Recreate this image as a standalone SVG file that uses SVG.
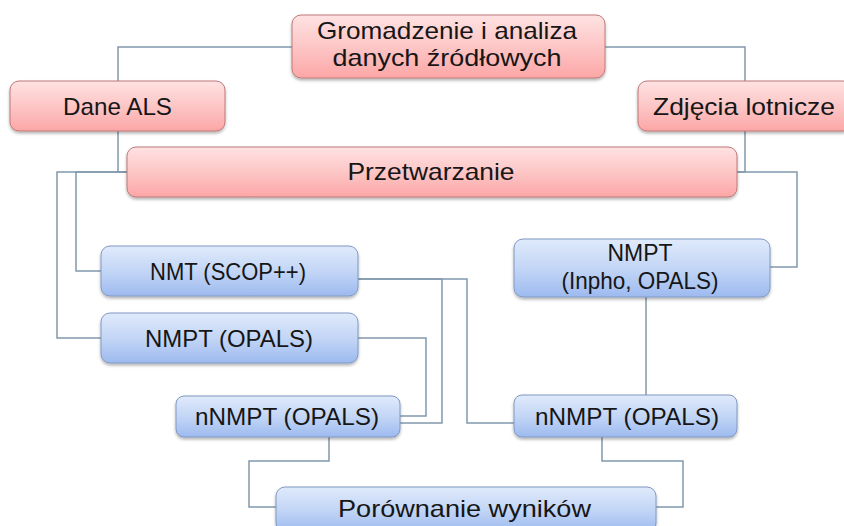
<svg xmlns="http://www.w3.org/2000/svg" width="844" height="526" viewBox="0 0 844 526">
<defs>
<linearGradient id="gPink" x1="0" y1="0" x2="0" y2="1">
<stop offset="0" stop-color="#ffe2e2"/>
<stop offset="0.5" stop-color="#fdc6c6"/>
<stop offset="1" stop-color="#fda6a6"/>
</linearGradient>
<linearGradient id="gBlue" x1="0" y1="0" x2="0" y2="1">
<stop offset="0" stop-color="#e0eafb"/>
<stop offset="0.5" stop-color="#c3d6f6"/>
<stop offset="1" stop-color="#9dbaef"/>
</linearGradient>
<filter id="sh" x="-10%" y="-20%" width="120%" height="150%">
<feDropShadow dx="0" dy="2" stdDeviation="1.5" flood-color="#000" flood-opacity="0.3"/>
</filter>
</defs>
<style>
.pink{fill:url(#gPink);stroke:#bd7878;stroke-width:1;filter:url(#sh)}
.blue{fill:url(#gBlue);stroke:#8098c2;stroke-width:1;filter:url(#sh)}
text{font-family:"Liberation Sans",Arial,sans-serif;font-size:24px;fill:#161616;text-anchor:middle}
.c{fill:none;stroke:#8199ad;stroke-width:1.5}
</style>
<rect width="844" height="526" fill="#ffffff"/>
<g id="connectors">
<path class="c" d="M292,47 H118 V81"/>
<path class="c" d="M605,47 H745 V81"/>
<path class="c" d="M118,131 V172 H127"/>
<path class="c" d="M745,131 V172 H737"/>
<path class="c" d="M127,172 H76 V271 H101"/>
<path class="c" d="M127,172 H57 V338 H101"/>
<path class="c" d="M737,172 H797 V267 H770"/>
<path class="c" d="M646,297 V395"/>
<path class="c" d="M358,279 H442 V423 H400"/>
<path class="c" d="M358,279 H467 V423 H514"/>
<path class="c" d="M358,338 H426 V416 H400"/>
<path class="c" d="M329,437 V461 H249 V507 H276"/>
<path class="c" d="M602,437 V461 H683 V507 H656"/>
</g>
<g id="gromadzenie">
<rect class="pink" x="292" y="15" width="313" height="63" rx="9"/>
<text x="447" y="39" textLength="260" lengthAdjust="spacingAndGlyphs">Gromadzenie i analiza</text>
<text x="447" y="66" textLength="229" lengthAdjust="spacingAndGlyphs">danych źródłowych</text>
</g>
<g id="dane-als">
<rect class="pink" x="10" y="81" width="215" height="50" rx="9"/>
<text x="117.5" y="115" textLength="109" lengthAdjust="spacingAndGlyphs">Dane ALS</text>
</g>
<g id="zdjecia">
<rect class="pink" x="638" y="81" width="214" height="50" rx="9"/>
<text x="744" y="115" textLength="182" lengthAdjust="spacingAndGlyphs">Zdjęcia lotnicze</text>
</g>
<g id="przetwarzanie">
<rect class="pink" x="127" y="147" width="610" height="50" rx="9"/>
<text x="431" y="180" textLength="167" lengthAdjust="spacingAndGlyphs">Przetwarzanie</text>
</g>
<g id="nmt-scop">
<rect class="blue" x="101" y="246" width="257" height="50" rx="9"/>
<text x="228" y="280" textLength="156" lengthAdjust="spacingAndGlyphs">NMT (SCOP++)</text>
</g>
<g id="nmpt-opals">
<rect class="blue" x="101" y="313" width="257" height="50" rx="9"/>
<text x="229" y="347" textLength="168" lengthAdjust="spacingAndGlyphs">NMPT (OPALS)</text>
</g>
<g id="nmpt-inpho">
<rect class="blue" x="514" y="239" width="256" height="58" rx="9"/>
<text x="640" y="261" textLength="65" lengthAdjust="spacingAndGlyphs">NMPT</text>
<text x="640" y="289" textLength="157" lengthAdjust="spacingAndGlyphs">(Inpho, OPALS)</text>
</g>
<g id="nnmpt-left">
<rect class="blue" x="176" y="396" width="224" height="41" rx="8"/>
<text x="287" y="425" textLength="184" lengthAdjust="spacingAndGlyphs">nNMPT (OPALS)</text>
</g>
<g id="nnmpt-right">
<rect class="blue" x="514" y="395" width="223" height="42" rx="8"/>
<text x="627" y="425" textLength="184" lengthAdjust="spacingAndGlyphs">nNMPT (OPALS)</text>
</g>
<g id="porownanie">
<rect class="blue" x="276" y="487" width="380" height="45" rx="9"/>
<text x="464.5" y="517" textLength="253" lengthAdjust="spacingAndGlyphs">Porównanie wyników</text>
</g>
</svg>
